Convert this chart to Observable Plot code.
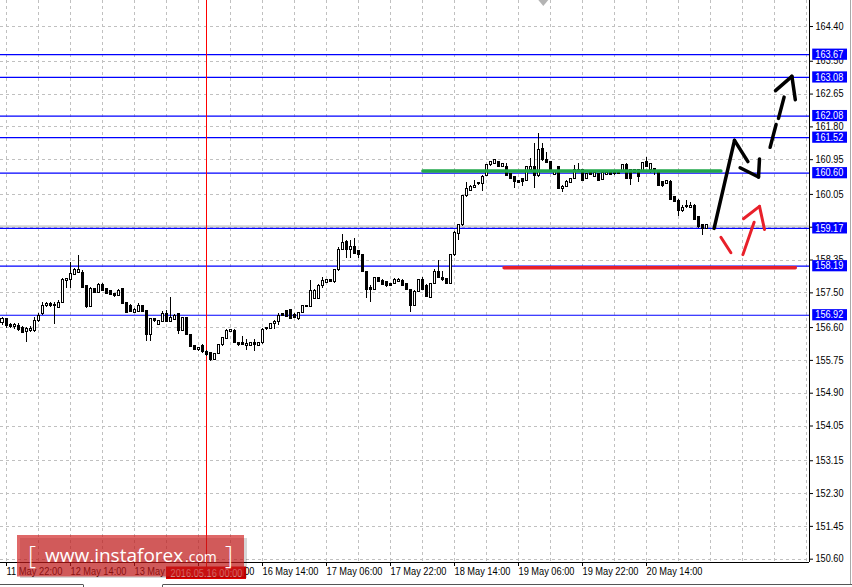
<!DOCTYPE html>
<html><head><meta charset="utf-8">
<script src="https://cdn.jsdelivr.net/npm/d3@7"></script>
<script src="https://cdn.jsdelivr.net/npm/@observablehq/plot@0.6"></script>
<style>
html,body{margin:0;padding:0;background:#fff;}
#chart{position:relative;width:852px;height:587px;overflow:hidden;}
</style>
</head><body><div id="chart"></div>
<script>
// ---------- DATA ----------
const firstBar = -1; // bar index of the first candle (bar 0 = 11 May 22:00)
const opens = [156.71,156.81,156.66,156.61,156.63,156.58,156.49,156.51,156.51,156.78,156.94,157.15,157.22,157.15,157.10,157.23,157.80,157.84,157.97,158.01,158.01,157.67,157.13,157.59,157.49,157.71,157.59,157.56,157.46,157.41,157.59,157.23,157.17,156.98,157.00,157.15,157.02,156.40,156.81,156.67,156.74,156.94,156.74,156.80,156.94,156.52,156.85,156.40,156.12,156.01,156.12,155.98,155.94,155.77,155.92,156.14,156.31,156.48,156.52,156.20,156.20,156.13,156.13,156.20,156.13,156.19,156.56,156.57,156.68,156.74,156.96,157.02,157.06,156.93,156.81,156.97,157.16,157.13,157.35,157.35,157.69,157.76,157.82,157.77,158.08,158.62,158.81,158.62,158.70,158.58,158.47,158.04,157.63,157.58,157.89,157.80,157.78,157.73,157.73,157.78,157.80,157.73,157.58,157.17,157.52,157.82,157.69,157.37,157.73,158.04,157.89,157.85,157.73,158.47,159.03,159.25,160.00,160.15,160.21,160.34,160.33,160.54,160.80,160.84,160.88,160.77,160.76,160.58,160.50,160.39,160.45,160.41,160.69,160.76,160.52,161.23,160.95,160.88,160.56,160.76,160.19,160.25,160.34,160.45,160.63,160.67,160.45,160.60,160.50,160.57,160.43,160.56,160.60,160.57,160.63,160.63,160.82,160.67,160.60,160.67,160.63,160.88,160.67,160.71,160.61,160.37,160.33,160.38,159.98,159.89,159.62,159.76,159.70,159.76,159.46,159.26,159.16];
const highs = [156.87,156.84,156.71,156.71,156.70,156.63,156.60,156.63,156.85,156.97,157.26,157.26,157.25,157.25,157.30,157.87,157.87,158.29,158.13,158.47,158.08,157.69,157.64,157.61,157.75,157.73,157.61,157.57,157.48,157.59,157.61,157.25,157.20,157.09,157.22,157.17,157.04,156.84,156.84,156.78,157.02,157.04,157.39,156.94,156.96,156.87,156.87,156.42,156.14,156.09,156.16,156.01,155.95,155.94,156.16,156.35,156.54,156.55,156.54,156.21,156.37,156.28,156.21,156.30,156.21,156.58,156.60,156.71,156.78,156.96,156.97,157.04,157.08,156.96,156.99,157.18,157.17,157.82,157.59,157.72,157.91,157.85,157.84,158.11,158.67,159.00,158.86,158.86,158.90,158.60,158.49,158.05,157.69,157.91,157.91,157.85,157.79,157.75,157.87,157.86,157.85,157.75,157.59,157.56,157.85,157.89,157.72,157.75,158.10,158.34,158.06,157.87,158.49,159.10,159.26,160.02,160.37,160.28,160.41,160.36,160.54,160.82,160.91,160.95,160.90,160.86,160.86,160.60,160.51,160.41,160.47,160.77,160.97,161.36,161.62,161.36,161.14,160.88,160.64,160.77,160.27,160.41,160.47,160.80,160.84,160.69,160.60,160.62,160.62,160.59,160.62,160.62,160.62,160.62,160.64,160.82,160.84,160.69,160.69,160.69,160.88,161.00,160.86,160.73,160.63,160.39,160.41,160.40,160.00,159.91,159.76,159.89,159.85,159.78,159.48,159.27,159.26];
const lows = [156.65,156.58,156.58,156.56,156.51,156.45,156.22,156.47,156.48,156.73,156.91,157.13,157.12,156.67,157.09,157.22,157.60,157.60,157.95,158.00,157.61,157.09,157.12,157.48,157.48,157.54,157.46,157.43,157.37,157.40,157.20,156.96,156.98,156.97,156.99,156.98,156.25,156.25,156.73,156.65,156.73,156.72,156.72,156.78,156.42,156.50,156.40,156.08,156.01,155.99,155.92,155.85,155.73,155.76,155.90,156.11,156.29,156.47,156.19,156.12,156.14,156.01,156.11,155.99,156.11,156.16,156.53,156.55,156.55,156.65,156.89,156.85,156.81,156.84,156.78,156.96,157.11,157.11,157.33,157.33,157.60,157.74,157.76,157.75,158.05,158.60,158.40,158.38,158.49,158.39,158.02,157.35,157.26,157.56,157.76,157.70,157.63,157.66,157.72,157.76,157.66,157.56,157.00,157.15,157.50,157.56,157.37,157.35,157.72,157.87,157.79,157.72,157.72,158.44,158.86,159.22,159.97,160.13,160.20,160.28,160.13,160.51,160.77,160.82,160.76,160.76,160.52,160.44,160.20,160.33,160.26,160.38,160.67,160.20,160.49,160.91,160.84,160.61,160.54,160.18,160.11,160.24,160.32,160.44,160.61,160.39,160.44,160.54,160.48,160.39,160.41,160.54,160.54,160.55,160.57,160.61,160.44,160.28,160.58,160.37,160.61,160.74,160.58,160.54,160.26,160.24,160.31,159.89,159.83,159.48,159.59,159.68,159.69,159.37,159.18,158.99,159.14];
const closes = [156.81,156.65,156.61,156.67,156.54,156.47,156.56,156.56,156.78,156.91,157.15,157.20,157.15,157.19,157.24,157.84,157.85,157.99,158.10,158.08,157.63,157.13,157.60,157.49,157.71,157.56,157.48,157.45,157.41,157.56,157.22,156.97,157.00,157.06,157.17,157.00,156.40,156.81,156.76,156.76,156.94,156.74,156.85,156.91,156.52,156.84,156.41,156.09,156.03,156.08,155.98,155.88,155.77,155.92,156.14,156.33,156.52,156.54,156.20,156.14,156.15,156.18,156.20,156.15,156.20,156.55,156.58,156.68,156.74,156.91,156.91,156.87,156.83,156.85,156.97,157.16,157.13,157.56,157.56,157.69,157.80,157.82,157.78,158.08,158.62,158.80,158.62,158.70,158.51,158.47,158.04,157.58,157.58,157.89,157.78,157.71,157.67,157.69,157.82,157.84,157.67,157.58,157.17,157.52,157.82,157.58,157.39,157.73,158.04,157.89,157.82,157.73,158.47,159.04,159.25,160.00,160.20,160.24,160.28,160.31,160.51,160.80,160.88,160.93,160.77,160.84,160.54,160.45,160.37,160.34,160.37,160.76,160.76,160.52,161.21,160.93,160.86,160.63,160.63,160.20,160.25,160.38,160.45,160.67,160.67,160.41,160.58,160.56,160.60,160.41,160.60,160.60,160.56,160.60,160.59,160.80,160.45,160.45,160.67,160.50,160.86,160.76,160.84,160.63,160.28,160.28,160.39,159.91,159.85,159.62,159.70,159.72,159.76,159.39,159.20,159.16,159.25];

const levelPrices = [163.67, 163.08, 162.08, 161.52, 160.60, 159.17, 158.19, 156.92];
const levelLabels = ["163.67","163.08","162.08","161.52","160.60","159.17","158.19","156.92"];
const bidPrice = 159.23;

const yTicks = [164.40,163.50,162.65,161.80,160.95,160.05,159.20,158.35,157.50,156.60,155.75,154.90,154.05,153.15,152.30,151.45,150.60];
const yTickLabels = ["164.40","163.50","162.65","161.80","160.95","160.05","159.20","158.35","157.50","156.60","155.75","154.90","154.05","153.15","152.30","151.45","150.60"];

const xTickBars = [0,16,32,48,64,80,96,112,128,144,160];
const xTickLabels = ["11 May 22:00","12 May 14:00","13 May 06:00","13 May 22:00","16 May 14:00","17 May 06:00","17 May 22:00","18 May 14:00","19 May 06:00","19 May 22:00","20 May 14:00"];
const gridBars = [0,8,16,24,32,40,48,56,64,72,80,88,96,104,112,120,128,136,144,152,160,168,176,184,192,200];

const markerBar = 50;
const markerLabel = "2016.05.16 00:00";
const shiftBar = 134.2;

const greenBars = [104.1, 178.6];
const greenPrice = 160.66;
const redBars = [124.4, 197.2];
const redPrice = 158.15;

// strokes of the hand-drawn arrows: [bar1, price1, bar2, price2]
const blackArrow = [
  [176.9,159.17,182.0,161.45],
  [182.0,161.45,185.35,160.90],
  [183.4,160.74,188.0,160.50],
  [188.0,160.50,188.25,160.97],
  [190.9,161.27,192.4,161.86],
  [193.0,162.02,194.4,162.57],
  [192.25,162.74,196.35,163.11],
  [196.35,163.11,197.2,162.50]
];
const redArrow = [
  [178.6,158.94,181.1,158.54],
  [184.1,158.49,186.9,159.33],
  [184.25,159.42,188.25,159.74],
  [188.25,159.74,189.5,159.14]
];
const watermarkParts = ["[", "www.instaforex", ".com", "]"];

// ---------- BUILD ----------
const bars = closes.map((c, k) => ({i: firstBar + k, o: opens[k], h: highs[k], l: lows[k], c}));
const levels = levelPrices.map((p, k) => ({p, label: levelLabels[k]}));
const yLabel = new Map(yTicks.map((v, k) => [v, yTickLabels[k]]));
const xLabel = new Map(xTickBars.map((v, k) => [v, xTickLabels[k]]));
const xDomain = [-1.5, 200.75];
const yDomain = [150.514, 165.074];
const grid = {stroke: "#c0c0c0", strokeDasharray: "3,3", shapeRendering: "crispEdges"};
const seg = (color, w) => ({x1: d => d[0], y1: d => d[1], x2: d => d[2], y2: d => d[3], stroke: color, strokeWidth: w, strokeLinecap: "round"});

const plot = Plot.plot({
  width: 852, height: 587,
  marginTop: 0, marginRight: 43, marginBottom: 25, marginLeft: 0,
  style: {fontFamily: "'Liberation Sans', Arial, sans-serif", fontSize: "10px", background: "#fff", color: "#000", overflow: "visible"},
  x: {domain: xDomain, label: null},
  y: {domain: yDomain, label: null},
  marks: [
    Plot.ruleY(yTicks, grid),
    Plot.ruleX(gridBars, grid),
    Plot.ruleY([bidPrice], {stroke: "#b0b0b0"}),
    Plot.ruleY(levels, {y: "p", stroke: "#0000ff", strokeWidth: 1.2}),
    Plot.ruleX([markerBar], {stroke: "#ff0000", shapeRendering: "crispEdges"}),
    Plot.ruleX(bars, {x: "i", y1: "l", y2: "h", stroke: "#000", shapeRendering: "crispEdges"}),
    Plot.rect(bars, {x1: d => d.i - 0.25, x2: d => d.i + 0.25, y1: "o", y2: "c",
      fill: d => d.c > d.o ? "#fff" : "#000", stroke: "#000", shapeRendering: "crispEdges"}),
    Plot.line(greenBars, {x: d => d, y: () => greenPrice, stroke: "#22a84c", strokeWidth: 3.5}),
    Plot.line(redBars, {x: d => d, y: () => redPrice, stroke: "#e8202a", strokeWidth: 3.5}),
    Plot.link(blackArrow, seg("#000", 3.5)),
    Plot.link(redArrow, seg("#e8202a", 3)),
    Plot.ruleX([xDomain[1]], {stroke: "#000", shapeRendering: "crispEdges"}),
    Plot.ruleY([yDomain[0]], {stroke: "#000", shapeRendering: "crispEdges"}),
    Plot.axisY(yTicks, {anchor: "right", tickSize: 3, tickPadding: 3, tickFormat: d => yLabel.get(d), fontSize: 10}),
    Plot.axisX(xTickBars, {anchor: "bottom", tickSize: 4, tickPadding: 1, tickFormat: d => xLabel.get(d), textAnchor: "start", fontSize: 10}),
    Plot.rect(levels, {x1: () => 201.55, x2: () => 210.25, y1: d => d.p - 0.145, y2: d => d.p + 0.145, fill: "#0000ff"}),
    Plot.text(levels, {x: () => 202.2, y: "p", text: "label", fill: "#fff", textAnchor: "start", fontSize: 10})
  ]
});
document.getElementById("chart").appendChild(plot);

// ---------- extras drawn with the plot's own scales ----------
const svg = d3.select(plot);
svg.selectAll('g[aria-label="x-axis tick label"] text')
  .attr("textLength", 56).attr("lengthAdjust", "spacingAndGlyphs");
svg.selectAll('g[aria-label="y-axis tick label"] text')
  .attr("textLength", 28).attr("lengthAdjust", "spacingAndGlyphs");
svg.selectAll('g[aria-label="text"] text')
  .attr("textLength", 28).attr("lengthAdjust", "spacingAndGlyphs");

const xs = plot.scale("x");
const mx = Math.round(xs.apply(markerBar)) + 0.5;
const sx = xs.apply(shiftBar) + 0.5;

// shift marker at top
svg.append("polygon").attr("points", `${sx-5},0 ${sx+5},0 ${sx},6`).attr("fill", "#b4b4b4");

// marker extension + date label
svg.append("line").attr("x1", mx).attr("x2", mx).attr("y1", 562).attr("y2", 567).attr("stroke", "#ff0000");
svg.append("rect").attr("x", mx - 40.5).attr("y", 566.5).attr("width", 80).attr("height", 12.5).attr("fill", "#e00000");
svg.append("text").attr("x", mx).attr("y", 573).attr("text-anchor", "middle").attr("dominant-baseline", "central")
  .attr("fill", "#fff").attr("font-size", 10).attr("textLength", 72).attr("lengthAdjust", "spacingAndGlyphs").text(markerLabel);

// window frame
svg.append("line").attr("x1", 850.5).attr("x2", 850.5).attr("y1", 0).attr("y2", 584).attr("stroke", "#a8a8a8");
svg.append("line").attr("x1", 0).attr("x2", 83).attr("y1", 584.5).attr("y2", 584.5).attr("stroke", "#555");
svg.append("line").attr("x1", 163).attr("x2", 852).attr("y1", 584.5).attr("y2", 584.5).attr("stroke", "#555");
svg.append("line").attr("x1", 83.5).attr("x2", 83.5).attr("y1", 584.5).attr("y2", 587).attr("stroke", "#555");
svg.append("line").attr("x1", 162.5).attr("x2", 162.5).attr("y1", 584.5).attr("y2", 587).attr("stroke", "#555");

// watermark
const wm = svg.append("g").attr("font-family", "'Open Sans', 'Noto Sans', sans-serif")
  .attr("fill", "#fff").attr("text-anchor", "start");
wm.append("rect").attr("x", 20).attr("y", 538).attr("width", 227).attr("height", 40).attr("fill", "rgba(0,0,0,0.16)");
wm.append("rect").attr("x", 17).attr("y", 535).attr("width", 227).attr("height", 41.5).attr("fill", "rgba(206,26,26,0.66)");
wm.append("text").attr("x", 28).attr("y", 564).attr("font-size", 25).attr("font-weight", 300).text(watermarkParts[0]);
wm.append("text").attr("x", 45).attr("y", 562).attr("font-size", 19).text(watermarkParts[1]);
wm.append("text").attr("x", 185).attr("y", 562).attr("font-size", 14).text(watermarkParts[2]);
wm.append("text").attr("x", 225).attr("y", 564).attr("font-size", 25).attr("font-weight", 300).text(watermarkParts[3]);
</script>
</body></html>
